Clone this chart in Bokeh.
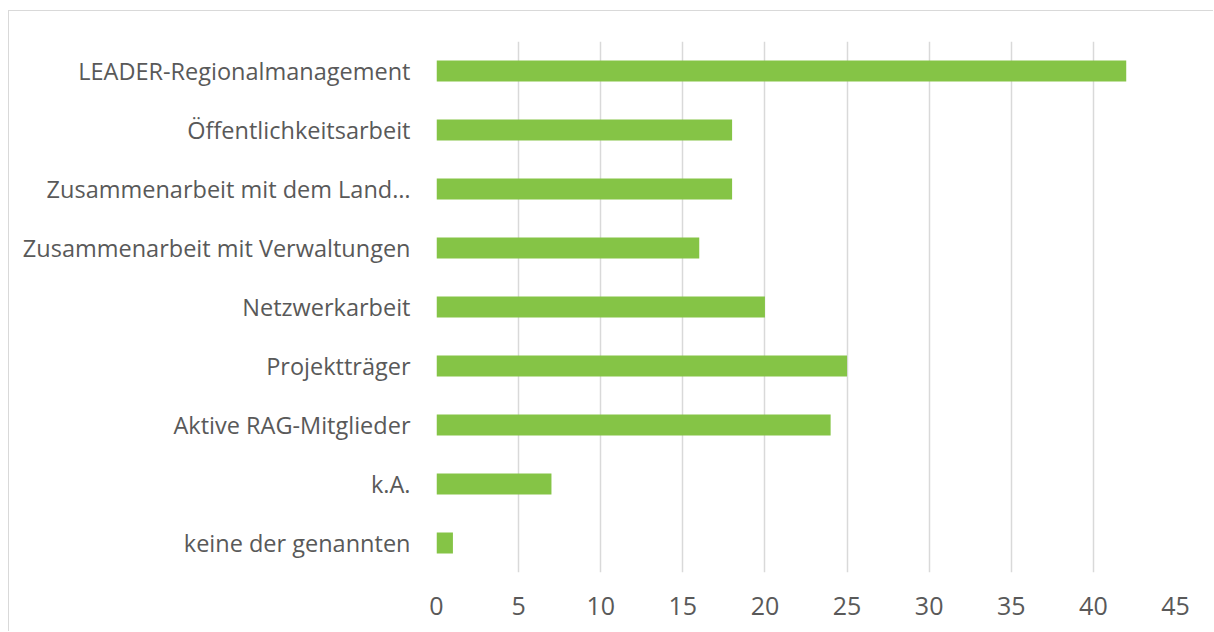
from bokeh.plotting import figure
from bokeh.models import FactorRange, Range1d, ColumnDataSource, FixedTicker
from bokeh.embed import file_html
from bokeh.resources import INLINE

categories = [
    "LEADER-Regionalmanagement",
    "Öffentlichkeitsarbeit",
    "Zusammenarbeit mit dem Land…",
    "Zusammenarbeit mit Verwaltungen",
    "Netzwerkarbeit",
    "Projektträger",
    "Aktive RAG-Mitglieder",
    "k.A.",
    "keine der genannten",
]
values = [42, 18, 18, 16, 20, 25, 24, 7, 1]
x_ticks = [0, 5, 10, 15, 20, 25, 30, 35, 40, 45]

source = ColumnDataSource(dict(cat=categories, val=values))

p = figure(
    width=1205, height=621,
    y_range=FactorRange(factors=list(reversed(categories)), range_padding=0),
    x_range=Range1d(0, 45),
    output_backend="svg", toolbar_location=None,
    min_border_left=427, min_border_right=39,
    min_border_top=30, min_border_bottom=60,
)
p.styles = {"border-left": "1px solid #d9d9d9", "border-top": "1px solid #d9d9d9",
            "margin-top": "10px", "margin-left": "8px"}

p.hbar(y="cat", right="val", left=0, height=0.36, source=source,
       fill_color="#85C446", line_color=None)

p.outline_line_color = None
p.background_fill_color = "white"
p.border_fill_color = "white"

p.ygrid.grid_line_color = None
p.xgrid.grid_line_color = "#d9d9d9"
p.xgrid.grid_line_width = 1.5
p.xaxis.ticker = FixedTicker(ticks=x_ticks)

for ax in (p.xaxis[0], p.yaxis[0]):
    ax.axis_line_color = None
    ax.major_tick_line_color = None
    ax.minor_tick_line_color = None
    ax.major_tick_out = 0
    ax.major_tick_in = 0
    ax.major_label_text_font = "Open Sans"
    ax.major_label_text_color = "#595959"

p.xaxis.major_label_text_font_size = "25px"
p.yaxis.major_label_text_font_size = "23.5px"
p.xaxis.major_label_standoff = 24
p.yaxis.major_label_standoff = 26

open("out.html", "w").write(file_html(p, INLINE))
